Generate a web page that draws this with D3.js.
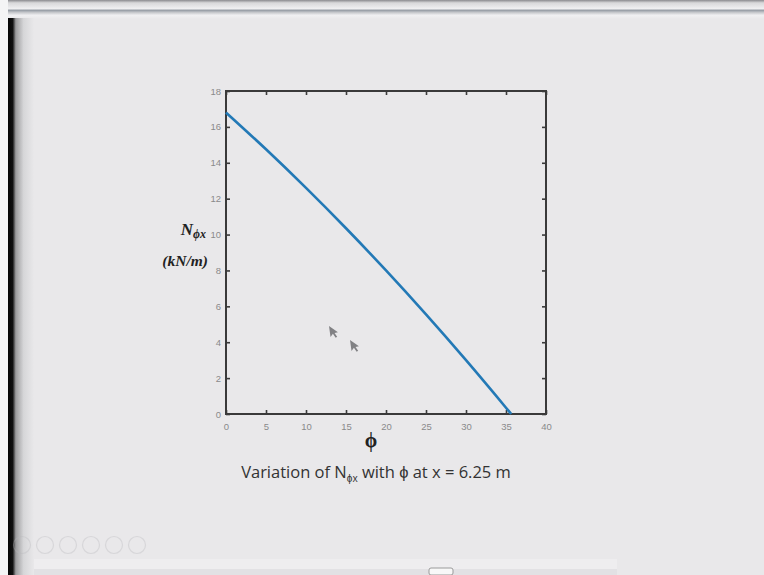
<!DOCTYPE html>
<html>
<head>
<meta charset="utf-8">
<script src="https://cdn.jsdelivr.net/npm/d3@7"></script>
<style>
  html, body { margin: 0; padding: 0; background: #e9e8ea; }
  svg { display: block; }
</style>
</head>
<body>
<svg id="chart" width="764" height="575"></svg>
<script>
// Membrane force N_phi_x against phi, at x = 6.25 m
const phiValues = [0, 5, 10, 15, 20, 25, 30, 35, 35.65];
const nValues   = [16.8, 14.75, 12.6, 10.35, 8.0, 5.55, 3.0, 0.35, 0];

const xTicks = [0, 5, 10, 15, 20, 25, 30, 35, 40];
const yTicks = [0, 2, 4, 6, 8, 10, 12, 14, 16, 18];

const svg = d3.select("#chart");
const W = 764, H = 575;

// ---- slide window frame ----
svg.append("rect").attr("width", W).attr("height", H).attr("fill", "#e9e8ea");

const defs = svg.append("defs");
const topGrad = defs.append("linearGradient").attr("id", "topbar").attr("x1", 0).attr("y1", 0).attr("x2", 0).attr("y2", 1);
[[0, "#8a8a8e"], [0.15, "#d8d8da"], [0.45, "#efeff1"], [0.55, "#9aa0a8"], [0.65, "#c4c6ca"], [0.8, "#f0f0f2"], [1, "#e9e8ea"]]
  .forEach(([o, c]) => topGrad.append("stop").attr("offset", o).attr("stop-color", c));
svg.append("rect").attr("x", 8).attr("y", 0).attr("width", W - 8).attr("height", 19).attr("fill", "url(#topbar)");
svg.append("rect").attr("x", 0).attr("y", 0).attr("width", 8).attr("height", H).attr("fill", "#f4f4f5");

const leftGrad = defs.append("linearGradient").attr("id", "leftedge").attr("x1", 0).attr("y1", 0).attr("x2", 1).attr("y2", 0);
[[0, "#050505"], [0.18, "#101010"], [0.3, "#9c9c9e"], [0.6, "#d6d6d8"], [1, "#e9e8ea"]]
  .forEach(([o, c]) => leftGrad.append("stop").attr("offset", o).attr("stop-color", c));
svg.append("rect").attr("x", 8).attr("y", 18).attr("width", 26).attr("height", H - 18).attr("fill", "url(#leftedge)");

// bottom strip of the player window
svg.append("rect").attr("x", 34).attr("y", 559).attr("width", 583).attr("height", 16).attr("fill", "#eeedef");
svg.append("rect").attr("x", 34).attr("y", 569).attr("width", 583).attr("height", 6).attr("fill", "#e2e1e4");
svg.append("rect").attr("x", 429).attr("y", 568).attr("width", 24).attr("height", 7)
  .attr("fill", "#f8f8f8").attr("stroke", "#9a9a9a").attr("stroke-width", 1).attr("rx", 2);

// slide show controls
const ctrl = svg.append("g").attr("opacity", 0.35);
d3.range(6).forEach(i => {
  ctrl.append("circle").attr("cx", 22 + i * 23).attr("cy", 545).attr("r", 8.5)
    .attr("fill", "none").attr("stroke", "#b8b8bc").attr("stroke-width", 1.2);
});

// ---- plot ----
const x = d3.scaleLinear().domain([0, 40]).range([226, 546]);
const y = d3.scaleLinear().domain([0, 18]).range([414, 91]);

const plot = svg.append("g");
plot.append("rect")
  .attr("x", x(0)).attr("y", y(18))
  .attr("width", x(40) - x(0)).attr("height", y(0) - y(18))
  .attr("fill", "none").attr("stroke", "#3a3a3a").attr("stroke-width", 2);

const tickFont = "'Liberation Sans', Arial, sans-serif";

const xAxis = d3.axisBottom(x).tickValues(xTicks).tickSize(-4).tickPadding(9).tickFormat(d3.format("d"));
const gx = plot.append("g").attr("transform", `translate(0,${y(0)})`).call(xAxis);
const xTop = d3.axisTop(x).tickValues(xTicks).tickSize(-4).tickFormat("");
const gxt = plot.append("g").attr("transform", `translate(0,${y(18)})`).call(xTop);

const yAxis = d3.axisLeft(y).tickValues(yTicks).tickSize(-4).tickPadding(5).tickFormat(d3.format("d"));
const gy = plot.append("g").attr("transform", `translate(${x(0)},0)`).call(yAxis);
const yRight = d3.axisRight(y).tickValues(yTicks).tickSize(-4).tickFormat("");
const gyr = plot.append("g").attr("transform", `translate(${x(40)},0)`).call(yRight);

[gx, gxt, gy, gyr].forEach(g => {
  g.select(".domain").remove();
  g.selectAll(".tick line").attr("stroke", "#3a3a3a").attr("stroke-width", 1.6);
  g.selectAll(".tick text").attr("fill", "#8a8a8a").attr("font-family", tickFont).attr("font-size", 9.5);
});

// the curve
const line = d3.line().x((d, i) => x(phiValues[i])).y(d => y(d)).curve(d3.curveMonotoneX);
plot.append("path").datum(nValues)
  .attr("d", line)
  .attr("fill", "none").attr("stroke", "#2379b6").attr("stroke-width", 2.6);

// ---- labels ----
const serif = "'Liberation Serif', 'Times New Roman', serif";
const yl = svg.append("text").attr("x", 206).attr("y", 235).attr("text-anchor", "end")
  .attr("font-family", serif).attr("font-style", "italic").attr("font-weight", "bold")
  .attr("fill", "#222");
yl.append("tspan").attr("font-size", 17).text("N");
yl.append("tspan").attr("font-size", 12).attr("dy", 3).text("ϕx");

svg.append("text").attr("x", 208).attr("y", 266).attr("text-anchor", "end")
  .attr("font-family", serif).attr("font-style", "italic").attr("font-weight", "bold")
  .attr("font-size", 15.5).attr("fill", "#222").text("(kN/m)");

svg.append("text").attr("x", 371).attr("y", 447).attr("text-anchor", "middle")
  .attr("font-family", serif).attr("font-weight", "bold")
  .attr("font-size", 20).attr("fill", "#222").text("ϕ");

const cap = svg.append("text").attr("x", 376).attr("y", 478).attr("text-anchor", "middle")
  .attr("font-family", "'Open Sans', 'Liberation Sans', sans-serif")
  .attr("font-size", 16.5).attr("fill", "#333");
cap.append("tspan").text("Variation of N");
cap.append("tspan").attr("font-size", 10).attr("dy", 4).text("ϕx");
cap.append("tspan").attr("dy", -4).text(" with ϕ at x = 6.25 m");

// ---- pointer arrows ----
const arrow = "M0,0 L0,11 L2.8,8.2 L5,12.5 L6.6,11.7 L4.5,7.6 L8,7.4 Z";
[[329, 326], [350, 340]].forEach(([ax, ay]) => {
  svg.append("path").attr("d", arrow).attr("transform", `translate(${ax},${ay}) rotate(-8)`)
    .attr("fill", "#6e6e72").attr("opacity", 0.85);
});
</script>
</body>
</html>
